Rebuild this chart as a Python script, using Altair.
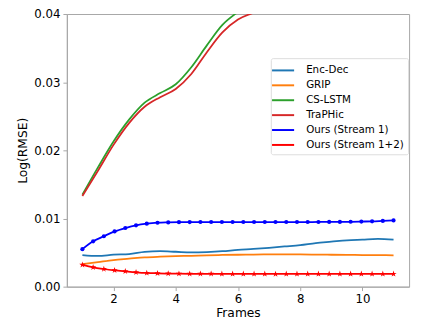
import altair as alt
import pandas as pd
import numpy as np

# ---- data ----
series_names = ["Enc-Dec", "GRIP", "CS-LSTM", "TraPHic", "Ours (Stream 1)", "Ours (Stream 1+2)"]
series_colors = ["#1f77b4", "#ff7f0e", "#2ca02c", "#d62728", "#0000ff", "#ff0000"]

frames_half = [1, 1.5, 2, 2.5, 3, 3.5, 4, 4.5, 5, 5.5, 6, 6.5, 7, 7.5, 8, 8.5, 9, 9.5, 10, 10.5, 11]
enc_dec = [0.00464, 0.0045, 0.0047, 0.00478, 0.0051, 0.0052, 0.00512, 0.00503, 0.00508, 0.0052, 0.0054,
           0.00553, 0.0057, 0.0059, 0.0061, 0.0064, 0.0066, 0.0068, 0.0069, 0.0070, 0.0069]
grip = [0.0033, 0.0036, 0.0039, 0.0041, 0.0043, 0.0044, 0.00447, 0.00453, 0.0046, 0.00465, 0.00468,
        0.0047, 0.00473, 0.00474, 0.00473, 0.0047, 0.00468, 0.00466, 0.00464, 0.00462, 0.0046]

frames_rise = [1, 1.5, 2, 2.5, 3, 3.5, 4, 4.5, 5, 5.5, 6, 6.5, 7]
cs_lstm = [0.0135, 0.0175, 0.0213, 0.0245, 0.0270, 0.0284, 0.0297, 0.0322, 0.0354, 0.0384, 0.0403, 0.0418, 0.0430]
traphic = [0.0133, 0.0170, 0.0208, 0.0240, 0.0264, 0.0278, 0.0290, 0.0312, 0.0344, 0.0373, 0.0392, 0.0402, 0.0412]

frames_ours = list(np.linspace(1, 11, 30))
ours_s1 = [0.0055, 0.00665, 0.0074, 0.0081, 0.0086, 0.0090, 0.00924, 0.00938, 0.00943, 0.00946,
           0.00947, 0.00948, 0.00948, 0.00948, 0.00948, 0.00948, 0.00948, 0.00948, 0.00948, 0.00948,
           0.00948, 0.00948, 0.00949, 0.0095, 0.0095, 0.00952, 0.00955, 0.00958, 0.00965, 0.00972]
ours_s12 = [0.0032, 0.00283, 0.00259, 0.0024, 0.00225, 0.00211, 0.00201, 0.00196, 0.00192, 0.0019,
            0.00189, 0.00188, 0.00188, 0.00187, 0.00187, 0.00187, 0.00187, 0.00187, 0.00186, 0.00187,
            0.00187, 0.00187, 0.00187, 0.00187, 0.00187, 0.00187, 0.00187, 0.00187, 0.00187, 0.00187]

x_ticks = [2, 4, 6, 8, 10]
y_ticks = [0.0, 0.01, 0.02, 0.03, 0.04]

# ---- build table ----
rows = []
for f, v in zip(frames_half, enc_dec):
    rows.append({"frame": f, "value": v, "series": series_names[0]})
for f, v in zip(frames_half, grip):
    rows.append({"frame": f, "value": v, "series": series_names[1]})
for f, v in zip(frames_rise, cs_lstm):
    rows.append({"frame": f, "value": v, "series": series_names[2]})
for f, v in zip(frames_rise, traphic):
    rows.append({"frame": f, "value": v, "series": series_names[3]})
for f, v in zip(frames_ours, ours_s1):
    rows.append({"frame": f, "value": v, "series": series_names[4]})
for f, v in zip(frames_ours, ours_s12):
    rows.append({"frame": f, "value": v, "series": series_names[5]})
df = pd.DataFrame(rows)

xscale = alt.Scale(domain=[0.5, 11.5], nice=False, zero=False)
yscale = alt.Scale(domain=[0, 0.04], nice=False)

x = alt.X("frame:Q", scale=xscale, title="Frames",
          axis=alt.Axis(values=x_ticks, format="d", grid=False))
y = alt.Y("value:Q", scale=yscale, title="Log(RMSE)",
          axis=alt.Axis(values=y_ticks, format=".2f", grid=False))

lines = alt.Chart(df).mark_line(interpolate="monotone", clip=True, strokeWidth=1.8).encode(
    x=x, y=y,
    color=alt.Color("series:N", sort=series_names,
                    scale=alt.Scale(domain=series_names, range=series_colors),
                    legend=alt.Legend(title=None, orient="none", legendX=208, legendY=45,
                                      symbolType="M-1.5,0H1.5", symbolSize=225, symbolStrokeWidth=2,
                                      labelFont="DejaVu Sans", labelFontSize=10.5,
                                      labelColor="black", rowPadding=1.2, labelOffset=15,
                                      padding=4, strokeColor="#dcdcdc", fillColor="white",
                                      cornerRadius=2)),
)

dots = alt.Chart(df).transform_filter(
    alt.datum.series == series_names[4]
).mark_point(filled=True, shape="circle", size=18, color="#0000ff", opacity=1).encode(x=x, y=y)

star_path = "M0,-1L0.2245,-0.309L0.951,-0.309L0.363,0.118L0.588,0.809L0,0.382L-0.588,0.809L-0.363,0.118L-0.951,-0.309L-0.2245,-0.309Z"
stars = alt.Chart(df).transform_filter(
    alt.datum.series == series_names[5]
).mark_point(filled=True, shape=star_path, size=45, color="#ff0000", opacity=1).encode(x=x, y=y)

chart = alt.layer(lines, dots, stars).properties(
    width=349, height=278,
    padding={"left": 60, "top": 3, "right": 5, "bottom": 38},
    autosize=alt.AutoSizeParams(type="none"),
).configure_view(
    stroke="#a6a6a6", strokeWidth=1
).configure_axis(
    domainColor="#a6a6a6", tickColor="#a6a6a6", tickSize=4,
    labelFont="DejaVu Sans", labelFontSize=12, labelColor="black", labelPadding=3,
    titleFont="DejaVu Sans", titleFontSize=12.5, titleColor="black", titleFontWeight="normal",
).configure_axisY(titlePadding=4).configure_axisX(titlePadding=2)

chart.save("out.html", embed_options={"renderer": "svg", "actions": False})
